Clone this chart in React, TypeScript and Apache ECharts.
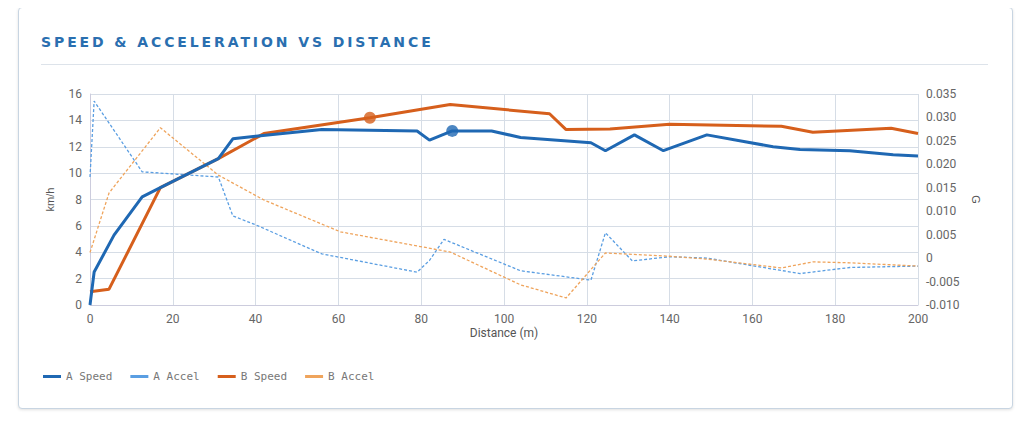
import React, { useEffect, useRef } from "react";
import * as echarts from "echarts";

const aSpeed: [number, number][] = [[0,0],[1,2.5],[5.8,5.3],[12.6,8.2],[17,8.9],[31,11.1],[34.5,12.6],[40,12.8],[56,13.3],[79,13.2],[82,12.5],[87.5,13.2],[97,13.2],[104,12.7],[121,12.3],[124.5,11.7],[131.5,12.9],[138.5,11.7],[149,12.9],[165,12.0],[171.5,11.8],[183.5,11.7],[194,11.4],[200,11.3]];
const bSpeed: [number, number][] = [[0,1.0],[4.6,1.2],[17,8.9],[31,11.1],[42,13.0],[67.6,14.2],[87,15.2],[111,14.5],[115,13.3],[125.6,13.35],[140,13.7],[167,13.55],[174.6,13.1],[193.5,13.4],[200,13.0]];
const aAccel: [number, number][] = [[0,0.0173],[1,0.0335],[12.6,0.0184],[31,0.0173],[34.5,0.009],[40,0.0071],[56,0.0009],[79,-0.003],[82,-0.0005],[85.5,0.004],[104,-0.0027],[121,-0.0047],[124.5,0.0054],[131,-0.0006],[140,0.0003],[149,0.0],[171.5,-0.0033],[183.5,-0.002],[200,-0.0017]];
const bAccel: [number, number][] = [[0,0.0012],[4.6,0.0139],[17,0.0278],[31,0.0177],[42,0.0124],[60.5,0.0056],[87,0.0013],[104,-0.0057],[115,-0.0085],[124.5,0.0011],[140,0.0004],[149,-0.0002],[167,-0.0021],[174.6,-0.0008],[183.5,-0.001],[200,-0.0017]];
const aMarker: [number, number][] = [[87.5, 13.2]];
const bMarker: [number, number][] = [[67.6, 14.2]];

const C_AS = "#1f68b3", C_BS = "#d65f1c", C_AA = "#5a9ee2", C_BA = "#efa45c";

export default function App() {
  const ref = useRef<HTMLDivElement>(null);
  useEffect(() => {
    const chart = echarts.init(ref.current!, null, { renderer: "svg" });
    const axisLabel = { color: "#666", fontSize: 12, fontFamily: "Roboto, sans-serif" };
    const splitLine = { show: true, lineStyle: { color: "#d6dde6", width: 1 } };
    chart.setOption({
      animation: false,
      grid: { left: 90, right: 106, top: 94, bottom: 118 },
      legend: {
        left: 38, top: 366, itemWidth: 18, itemHeight: 3, itemGap: 18, icon: "rect",
        data: ["A Speed", "A Accel", "B Speed", "B Accel"],
        textStyle: { color: "#777", fontSize: 11, fontFamily: "DejaVu Sans Mono, monospace" },
      },
      xAxis: {
        type: "value", min: 0, max: 200, interval: 20,
        name: "Distance (m)", nameLocation: "middle", nameGap: 22,
        nameTextStyle: { color: "#555", fontSize: 12, fontFamily: "Roboto, sans-serif" },
        axisLabel, splitLine, axisLine: { lineStyle: { color: "#ccd" } }, axisTick: { show: false },
      },
      yAxis: [
        {
          type: "value", min: 0, max: 16, interval: 2, name: "km/h", nameLocation: "middle", nameGap: 35,
          nameTextStyle: { color: "#555", fontSize: 11 }, axisLabel, splitLine,
          axisLine: { show: true, lineStyle: { color: "#ccd" } }, axisTick: { show: false },
        },
        {
          type: "value", min: -0.01, max: 0.035, interval: 0.005, name: "G", nameLocation: "middle", nameGap: 50,
          nameRotate: -90, nameTextStyle: { color: "#555", fontSize: 11 },
          axisLabel: { ...axisLabel, formatter: (v: number) => (Math.abs(v) < 1e-9 ? "0" : v.toFixed(3)) },
          splitLine: { show: false }, axisLine: { show: false }, axisTick: { show: false },
        },
      ],
      series: [
        { name: "A Speed", type: "line", data: aSpeed, showSymbol: false, lineStyle: { color: C_AS, width: 3 }, itemStyle: { color: C_AS }, z: 5 },
        { name: "A Accel", type: "line", yAxisIndex: 1, data: aAccel, showSymbol: false, lineStyle: { color: C_AA, width: 1.3, type: [3, 2] }, itemStyle: { color: C_AA } },
        { name: "B Speed", type: "line", data: bSpeed, showSymbol: false, lineStyle: { color: C_BS, width: 3 }, itemStyle: { color: C_BS }, z: 4 },
        { name: "B Accel", type: "line", yAxisIndex: 1, data: bAccel, showSymbol: false, lineStyle: { color: C_BA, width: 1.3, type: [3, 2] }, itemStyle: { color: C_BA } },
        { name: "aMark", type: "scatter", data: aMarker, symbolSize: 12, itemStyle: { color: C_AS }, z: 6 },
        { name: "bMark", type: "scatter", data: bMarker, symbolSize: 12, itemStyle: { color: C_BS }, z: 6 },
      ],
    });
    return () => chart.dispose();
  }, []);
  return (
    <div style={{ position: "relative", width: 1024, height: 423, margin: -8, background: "#fff", overflow: "hidden" }}>
      <div style={{ position: "absolute", left: 18, top: 7, width: 993, height: 400, border: "1px solid #c8d5e2", borderRadius: 4, boxShadow: "0 1px 3px rgba(0,0,0,0.12)", background: "#fff" }} />
      <div style={{ position: "absolute", left: 41, top: 34, color: "#2a6fb0", fontFamily: "DejaVu Sans, sans-serif", fontWeight: "bold", fontSize: 14, letterSpacing: 2.9 }}>
        SPEED &amp; ACCELERATION VS DISTANCE
      </div>
      <div style={{ position: "absolute", left: 41, top: 64, width: 947, height: 1, background: "#dde3ea" }} />
      <div ref={ref} style={{ position: "absolute", left: 0, top: 0, width: 1024, height: 423 }} />
    </div>
  );
}
